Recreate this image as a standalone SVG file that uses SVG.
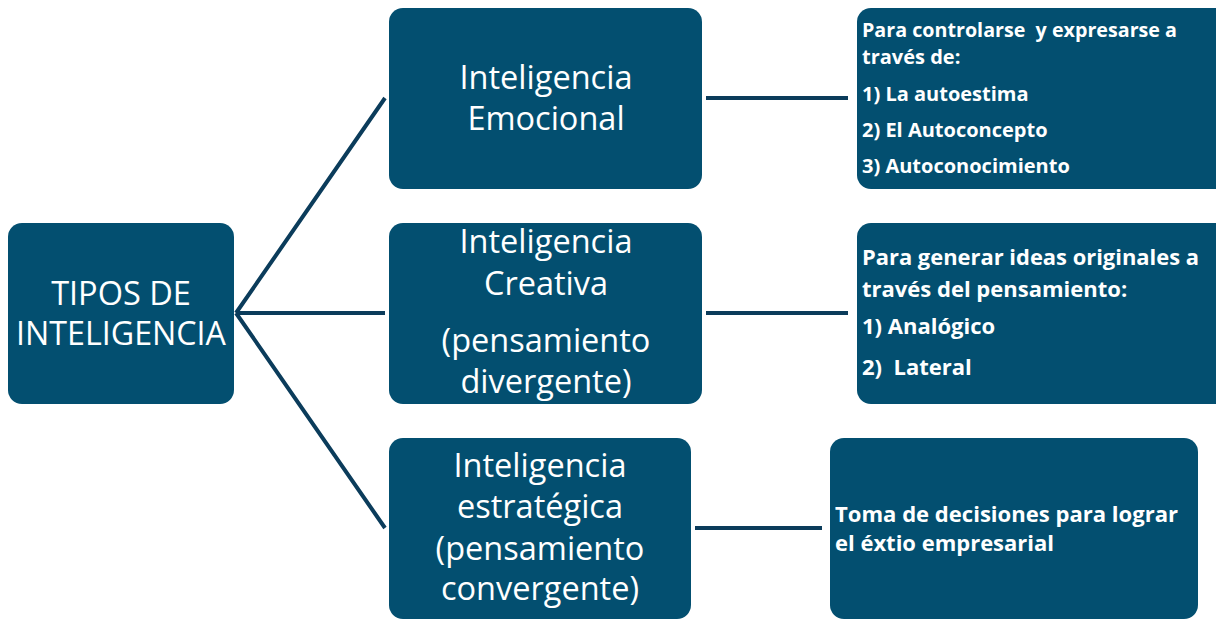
<svg xmlns="http://www.w3.org/2000/svg" width="1216" height="619" viewBox="0 0 1216 619">
<style>
.box{fill:#034f70;}
.t{fill:#ffffff;font-family:"Open Sans","Liberation Sans",sans-serif;font-size:32.5px;text-anchor:middle;}
.b{fill:#ffffff;font-family:"Open Sans","Liberation Sans",sans-serif;font-size:20px;font-weight:bold;}
.c{stroke:#0b3c5b;stroke-width:4;fill:none;}
</style>
<rect width="1216" height="619" fill="#ffffff"/>
<g id="connectors">
<path class="c" d="M236 313 L385 98 M236 313 L385 313 M236 313 L385 528"/>
<path class="c" d="M706 98 H848 M706 313 H848 M695 528 H822"/>
</g>
<g id="root">
<rect class="box" x="8" y="223" width="226" height="181" rx="14"/>
<text class="t" x="121" y="305">TIPOS DE</text>
<text class="t" x="121" y="345" textLength="210" lengthAdjust="spacingAndGlyphs">INTELIGENCIA</text>
</g>
<g id="emocional">
<rect class="box" x="389" y="8" width="313" height="181" rx="14"/>
<text class="t" x="546" y="89">Inteligencia</text>
<text class="t" x="546" y="130">Emocional</text>
</g>
<g id="creativa">
<rect class="box" x="389" y="223" width="313" height="181" rx="14"/>
<text class="t" x="546" y="253">Inteligencia</text>
<text class="t" x="546" y="295">Creativa</text>
<text class="t" x="546" y="352">(pensamiento</text>
<text class="t" x="546" y="393">divergente)</text>
</g>
<g id="estrategica">
<rect class="box" x="389" y="438" width="302" height="181" rx="14"/>
<text class="t" x="540" y="477">Inteligencia</text>
<text class="t" x="540" y="518">estratégica</text>
<text class="t" x="540" y="560">(pensamiento</text>
<text class="t" x="540" y="600">convergente)</text>
</g>
<g id="desc-emocional">
<rect class="box" x="857" y="8" width="375" height="181" rx="14"/>
<text class="b" x="862" y="37" textLength="315" lengthAdjust="spacingAndGlyphs" xml:space="preserve">Para controlarse  y expresarse a</text>
<text class="b" x="862" y="64">través de:</text>
<text class="b" x="862" y="101">1) La autoestima</text>
<text class="b" x="862" y="137">2) El Autoconcepto</text>
<text class="b" x="862" y="173">3) Autoconocimiento</text>
</g>
<g id="desc-creativa">
<rect class="box" x="857" y="223" width="375" height="181" rx="14"/>
<text class="b" x="862" y="265" style="font-size:22px" textLength="337" lengthAdjust="spacingAndGlyphs">Para generar ideas originales a</text>
<text class="b" x="862" y="297" style="font-size:22px">través del pensamiento:</text>
<text class="b" x="862" y="334" style="font-size:22px">1) Analógico</text>
<text class="b" x="862" y="375" style="font-size:22px" xml:space="preserve">2)  Lateral</text>
</g>
<g id="desc-estrategica">
<rect class="box" x="830" y="438" width="368" height="181" rx="14"/>
<text class="b" x="835" y="522" style="font-size:22px" textLength="343" lengthAdjust="spacingAndGlyphs">Toma de decisiones para lograr</text>
<text class="b" x="835" y="551" style="font-size:22px" textLength="219" lengthAdjust="spacingAndGlyphs">el éxtio empresarial</text>
</g>
</svg>
